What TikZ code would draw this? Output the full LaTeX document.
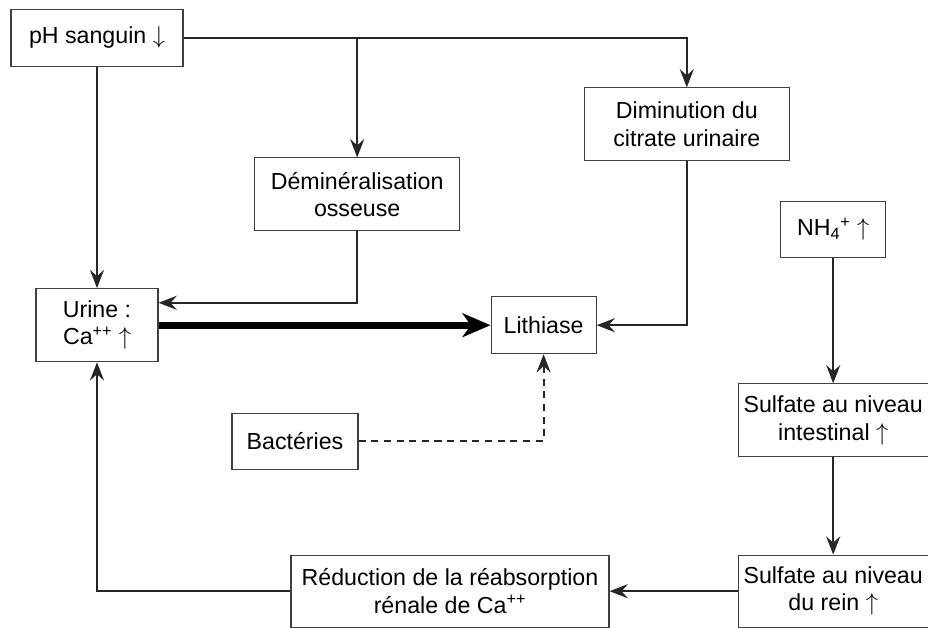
\documentclass[tikz,border=0pt]{standalone}
\usepackage{fontspec}
\setmainfont{Liberation Sans}
\usetikzlibrary{arrows.meta}
\newcommand{\up}{\ $\uparrow$}
\newcommand{\down}{\ $\downarrow$}
\begin{document}
\begin{tikzpicture}
[font=\fontsize{16.5}{19.5}\selectfont]
\tikzstyle{box}=[rectangle, draw=black!75, line width=0.8pt, align=center, inner sep=2pt]
\tikzstyle{arr}=[-{Stealth[length=13pt,width=10pt,inset=4.5pt]}, line width=1.3pt, black!85]
\useasboundingbox (0,0) rectangle (23.2,-15.7);

\node[box, minimum width=4.3cm,  minimum height=1.425cm]	(pH)	at (2.425,-0.94)  {pH sanguin\down};
\node[box, minimum width=5.125cm,minimum height=1.825cm]	(cit)	at (17.17,-3.11)  {Diminution du\\citrate urinaire};
\node[box, minimum width=5.125cm,minimum height=1.825cm]	(demin)	at (8.93,-4.86)   {Déminéralisation\\osseuse};
\node[box, minimum width=2.625cm,minimum height=1.4cm]		(nh4)	at (20.83,-5.73)  {NH\textsubscript{4}\textsuperscript{+}\up};
\node[box, minimum width=3.05cm, minimum height=1.825cm]	(urine)	at (2.425,-8.13)  {Urine :\\Ca\textsuperscript{++}\up};
\node[box, minimum width=2.625cm,minimum height=1.425cm]	(lith)	at (13.59,-8.13)  {Lithiase};
\node[box, minimum width=3.15cm, minimum height=1.4cm]		(bact)	at (7.375,-11.03) {Bactéries};
\node[box, minimum width=4.75cm, minimum height=1.825cm]	(sint)	at (20.83,-10.51) {Sulfate au niveau\\intestinal\up};
\node[box, minimum width=7.95cm, minimum height=1.8cm]		(red)	at (11.25,-14.78) {Réduction de la réabsorption\\rénale de Ca\textsuperscript{++}};
\node[box, minimum width=4.75cm, minimum height=1.8cm]		(srein)	at (20.83,-14.78) {Sulfate au niveau\\du rein\up};

\draw[arr]  (pH.east) -| (cit.north);
\draw[arr]  (pH.east -| demin.north) -- (demin.north);
\draw[arr]  (pH.south) -- (urine.north);
\draw[arr]  (demin.south) |- ([yshift=0.56cm]urine.east);
\draw[arr]  (cit.south) |- (lith.east);
\draw[-{Stealth[length=20pt,width=17pt,inset=6pt]}, line width=5pt]  (urine.east) -- (lith.west);
\draw[arr, dash pattern=on 5pt off 4pt]  (bact.east) -| (lith.south);
\draw[arr]  (nh4.south) -- (sint.north);
\draw[arr]  (sint.south) -- (srein.north);
\draw[arr]  (srein.west) -- (red.east);
\draw[arr]  (red.west) -| (urine.south);
\end{tikzpicture}
\end{document}
